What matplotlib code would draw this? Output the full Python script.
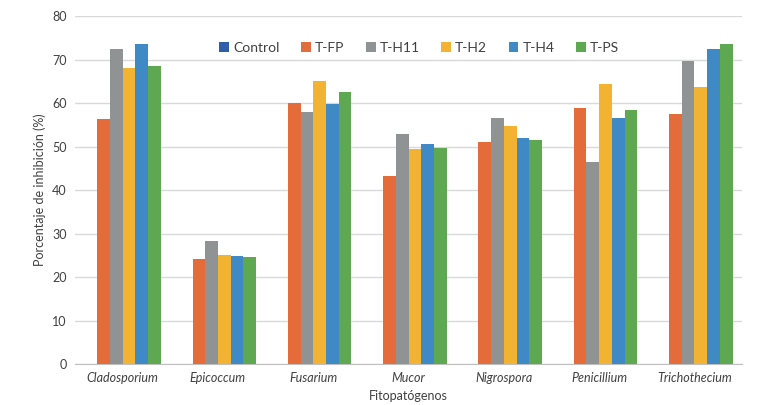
import numpy as np
import matplotlib
matplotlib.use("Agg")
import matplotlib.pyplot as plt

plt.rcParams['font.family'] = ['Lato', 'DejaVu Sans']

categories = ['Cladosporium', 'Epicoccum', 'Fusarium', 'Mucor',
              'Nigrospora', 'Penicillium', 'Trichothecium']
series = ['Control', 'T-FP', 'T-H11', 'T-H2', 'T-H4', 'T-PS']

control = [0, 0, 0, 0, 0, 0, 0]
t_fp = [56.4, 24.2, 60.0, 43.2, 51.0, 58.8, 57.5]
t_h11 = [72.5, 28.2, 58.0, 53.0, 56.6, 46.5, 69.8]
t_h2 = [68.0, 25.2, 65.1, 49.4, 54.8, 64.4, 63.8]
t_h4 = [73.5, 24.9, 59.7, 50.6, 51.9, 56.6, 72.5]
t_ps = [68.6, 24.6, 62.6, 49.7, 51.5, 58.5, 73.6]

values = [control, t_fp, t_h11, t_h2, t_h4, t_ps]
colors = ['#2E5EA6', '#E46C3A', '#8F9394', '#F2B232', '#3F8AC4', '#5DA850']

fig = plt.figure(figsize=(7.73, 4.05), dpi=100)
ax = fig.add_axes([0.097, 0.101, 0.863, 0.859])

x = np.arange(len(categories))
width = 0.8 / len(series)
for i, (name, vals) in enumerate(zip(series, values)):
    offset = (i - (len(series) - 1) / 2) * width
    ax.bar(x + offset, vals, width, color=colors[i], label=name, zorder=3)

ax.set_xlim(-0.5, len(categories) - 0.5)
ax.set_ylim(0, 80)
ax.set_yticks(range(0, 81, 10))
ax.yaxis.grid(True, color='#D9D9D9', linewidth=1, zorder=0)
ax.set_axisbelow(True)
for s in ['top', 'right', 'left']:
    ax.spines[s].set_visible(False)
ax.spines['bottom'].set_color('#BFBFBF')
ax.tick_params(axis='both', length=0, labelsize=9, colors='#404040', pad=6)
ax.set_xticks(x)
ax.set_xticklabels(categories, fontstyle='italic')

ax.set_ylabel('Porcentaje de inhibición (%)', fontsize=9, color='#404040')
ax.set_xlabel('Fitopatógenos', fontsize=9, color='#404040', labelpad=4)

leg = ax.legend(ncol=6, loc='center', bbox_to_anchor=(0.516, 0.908),
                frameon=False, fontsize=10, handlelength=0.7,
                handleheight=0.7, handletextpad=0.3, columnspacing=1.55)
for t in leg.get_texts():
    t.set_color('#404040')

fig.savefig('out.png', dpi=100)
